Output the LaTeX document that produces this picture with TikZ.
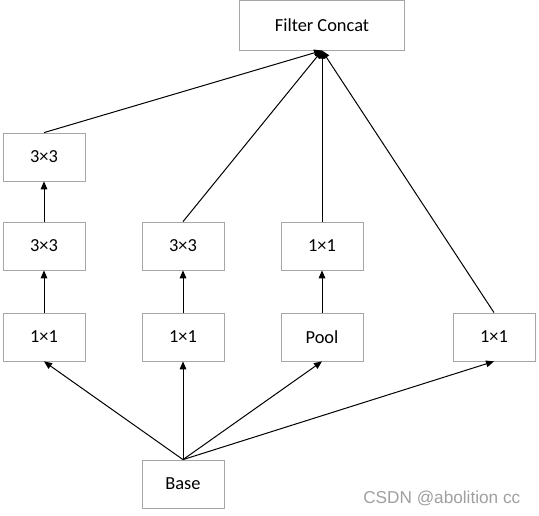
\documentclass[tikz,border=0pt]{standalone}
\usepackage{fontspec}
\setmainfont{Carlito}
\newfontfamily\wmfont{Liberation Sans}
\usepackage{tikz}
\usetikzlibrary{arrows.meta, positioning}

\begin{document}
\begin{tikzpicture}[
  x=0.75pt, y=-0.75pt,
  font=\fontsize{13.8}{16}\selectfont,
  box/.style={draw=gray!70, line width=0.6pt, fill=white, inner sep=0pt,
    minimum width=61.5pt, minimum height=36pt},
  topbox/.style={box, minimum width=123.5pt, minimum height=37pt},
  flow/.style={draw=black, line width=0.75pt, -{Triangle[length=6pt, width=5pt]}},
  watermark/.style={font=\wmfont\fontsize{12.9}{15}\selectfont, text=gray!75}
]
\useasboundingbox (0,0) rectangle (539,515);

% ============ NODES ============
\node[topbox] (concat) at (322,25.5) {Filter Concat};

\node[box] (a3) at (44,157) {3×3};
\node[box] (a2) at (44,246) {3×3};
\node[box] (a1) at (44,337) {1×1};

\node[box] (b2) at (183,246) {3×3};
\node[box] (b1) at (183,337) {1×1};

\node[box] (c2) at (322,246) {1×1};
\node[box] (c1) at (322,337) {Pool};

\node[box] (d1) at (494,337) {1×1};

\node[box] (base) at (183,484) {Base};

% ============ CONNECTORS ============
\foreach \n in {a1,b1,c1,d1}
  \draw[flow] (base.north) -- (\n.south);

\draw[flow] (a1) -- (a2);
\draw[flow] (a2) -- (a3);
\draw[flow] (b1) -- (b2);
\draw[flow] (c1) -- (c2);

\foreach \n in {a3,b2,c2,d1}
  \draw[flow] (\n.north) -- (concat.south);

\node[watermark, anchor=east] (wm) at (525,498) {CSDN @abolition cc};
\end{tikzpicture}
\end{document}
